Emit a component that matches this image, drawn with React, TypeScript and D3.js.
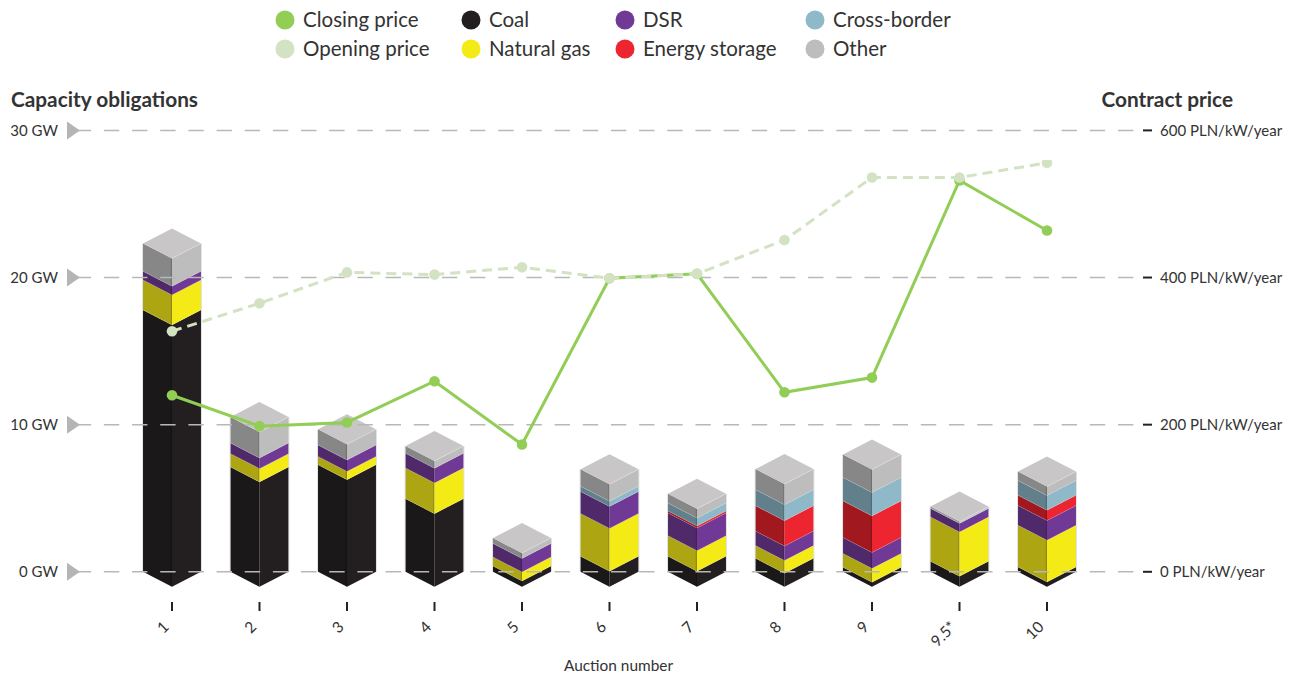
import React from "react";
import * as d3 from "d3";

const auctions = ["1", "2", "3", "4", "5", "6", "7", "8", "9", "9.5*", "10"];
const coal = [17.8, 7.12, 7.28, 4.97, 0.39, 1.05, 1.05, 0.92, 0.31, 0.71, 0.33];
const naturalGas = [2.04, 0.91, 0.56, 2.08, 0.61, 2.92, 1.4, 0.86, 0.93, 3.01, 2.83];
const dsr = [0.58, 0.72, 0.77, 1.0, 0.93, 1.49, 1.54, 0.99, 1.09, 0.59, 1.34];
const energyStorage = [0, 0, 0, 0, 0, 0, 0.14, 1.72, 2.49, 0, 0.7];
const crossBorder = [0, 0, 0, 0, 0, 0.36, 0.54, 1.09, 1.59, 0.03, 1.0];
const other = [1.9, 1.77, 1.07, 0.5, 0.36, 1.15, 0.64, 1.4, 1.56, 0.09, 0.61];
const closingPrice = [240, 198, 203, 259, 173, 399, 405, 244, 264, 532, 464];
const openingPrice = [327, 365, 407, 404, 414, 399, 405, 451, 536, 536, 556];
const capacityTicks = [0, 10, 20, 30];
const priceTicks = [0, 200, 400, 600];

const stackLayers = [
  { name: "Coal", values: coal, left: "#1a1818", right: "#231f20" },
  { name: "Natural gas", values: naturalGas, left: "#ada512", right: "#f4eb16" },
  { name: "DSR", values: dsr, left: "#50296b", right: "#713996" },
  { name: "Energy storage", values: energyStorage, left: "#a2181f", right: "#ec2530" },
  { name: "Cross-border", values: crossBorder, left: "#62808c", right: "#8fb9c8" },
  { name: "Other", values: other, left: "#878787", right: "#bebdbe" },
];

const legendColumns = [
  { x: 285, items: [["Closing price", "#92cd56"], ["Opening price", "#d3e2c3"]] },
  { x: 471, items: [["Coal", "#231f20"], ["Natural gas", "#f4eb16"]] },
  { x: 625, items: [["DSR", "#713996"], ["Energy storage", "#ec2530"]] },
  { x: 815, items: [["Cross-border", "#8fb9c8"], ["Other", "#bebdbe"]] },
];

const FONT = "Lato, 'Open Sans', sans-serif";
const INK = "#333333";
const GRID = "#b8b8b8";
const HALF_W = 29;
const SKEW = 15;

const capacity = d3.scaleLinear().domain([0, 30]).range([571.8, 130.4]);
const price = d3.scaleLinear().domain([0, 600]).range([571.8, 130.4]);
const xPos = d3.scalePoint<string>().domain(auctions).range([172, 1047]);

const linePath = d3
  .line<number>()
  .x((_, i) => xPos(auctions[i]) as number)
  .y((d) => price(d));

function Bar({ index }: { index: number }) {
  const cx = xPos(auctions[index]) as number;
  const l = cx - HALF_W;
  const r = cx + HALF_W;
  let base = 0;
  const faces: React.ReactNode[] = [];
  stackLayers.forEach((layer) => {
    const v = layer.values[index];
    if (v <= 0) return;
    const y0 = capacity(base);
    const y1 = capacity(base + v);
    faces.push(
      <g key={layer.name}>
        <path d={`M${l},${y0}L${cx},${y0 + SKEW}L${cx},${y1 + SKEW}L${l},${y1}Z`} fill={layer.left} />
        <path d={`M${cx},${y0 + SKEW}L${r},${y0}L${r},${y1}L${cx},${y1 + SKEW}Z`} fill={layer.right} />
        {base > 0 && (
          <path
            d={`M${l},${y0}L${cx},${y0 + SKEW}L${r},${y0}`}
            fill="none"
            stroke="#ffffff"
            strokeOpacity={0.2}
            strokeWidth={0.7}
          />
        )}
      </g>
    );
    base += v;
  });
  const top = capacity(base);
  const bottom = capacity(0);
  return (
    <g>
      {faces}
      {/* shaded strip along the front corner */}
      <rect x={cx - 1.2} y={top + SKEW} width={1.2} height={bottom - top} fill="#000" fillOpacity={0.16} />
      {/* pale fringe on the outer vertical edges */}
      <path
        d={`M${l - 0.4},${top}V${bottom}M${r + 0.4},${top}V${bottom}`}
        stroke="#b8b8b8"
        strokeOpacity={0.55}
        strokeWidth={0.8}
        fill="none"
      />
      <path
        d={`M${l},${top}L${cx},${top - SKEW}L${r},${top}L${cx},${top + SKEW}Z`}
        fill="#c8c6c7"
      />
      <path
        d={`M${cx},${top + SKEW}L${r},${top}`}
        fill="none"
        stroke="#ffffff"
        strokeOpacity={0.3}
        strokeWidth={0.8}
      />
    </g>
  );
}

export default function App() {
  return (
    <svg
      width={1294}
      height={677}
      style={{ position: "absolute", left: 0, top: 0, background: "#fff" }}
      fontFamily={FONT}
    >
      <defs>
        <clipPath id="plot-area">
          <rect x={0} y={160} width={1294} height={517} />
        </clipPath>
      </defs>

      {legendColumns.map((col) =>
        col.items.map(([label, color], i) => (
          <g key={label}>
            <circle cx={col.x} cy={20 + i * 29} r={9.5} fill={color} />
            <text x={col.x + 18} y={27 + i * 29} fontSize={20.5} fill={INK}>
              {label}
            </text>
          </g>
        ))
      )}

      <text x={11} y={107} fontSize={20.8} fontWeight={700} fill={INK}>
        Capacity obligations
      </text>
      <text x={1233} y={107} fontSize={20.8} fontWeight={700} fill={INK} textAnchor="end">
        Contract price
      </text>

      {auctions.map((_, i) => (
        <Bar key={i} index={i} />
      ))}

      {capacityTicks.map((t) => (
        <g key={t}>
          <line
            x1={75.7}
            x2={1133.5}
            y1={capacity(t)}
            y2={capacity(t)}
            stroke={GRID}
            strokeWidth={1.5}
            strokeDasharray="15.4 12.77"
          />
          <path
            d={`M67,${capacity(t) - 9}L80,${capacity(t)}L67,${capacity(t) + 9}Z`}
            fill="#b5b5b5"
          />
          <text x={58} y={capacity(t) + 5.5} fontSize={15} fill={INK} textAnchor="end">
            {t} GW
          </text>
        </g>
      ))}

      {priceTicks.map((t) => (
        <g key={t}>
          <line x1={1143} x2={1152} y1={price(t)} y2={price(t)} stroke="#222" strokeWidth={2} />
          <text x={1160} y={price(t) + 5.5} fontSize={15} fill={INK}>
            {t} PLN/kW/year
          </text>
        </g>
      ))}

      <path d={linePath(closingPrice) as string} fill="none" stroke="#92cd56" strokeWidth={3} />
      {closingPrice.map((v, i) => (
        <circle key={i} cx={xPos(auctions[i])} cy={price(v)} r={5.3} fill="#92cd56" />
      ))}
      <g clipPath="url(#plot-area)">
        <path
          d={linePath(openingPrice) as string}
          fill="none"
          stroke="#d3e2c3"
          strokeWidth={3}
          strokeDasharray="10 6"
        />
        {openingPrice.map((v, i) => (
          <circle key={i} cx={xPos(auctions[i])} cy={price(v)} r={5.3} fill="#d3e2c3" />
        ))}
      </g>

      {auctions.map((a) => {
        const x = xPos(a) as number;
        return (
          <g key={a}>
            <line x1={x} x2={x} y1={602} y2={611} stroke="#222" strokeWidth={2} />
            <text
              transform={`translate(${x - 5},625) rotate(-45)`}
              fontSize={15.5}
              fill={INK}
              textAnchor="end"
              dominantBaseline="middle"
            >
              {a}
            </text>
          </g>
        );
      })}

      <text x={618.5} y={671} fontSize={15.4} fill={INK} textAnchor="middle">
        Auction number
      </text>
    </svg>
  );
}
